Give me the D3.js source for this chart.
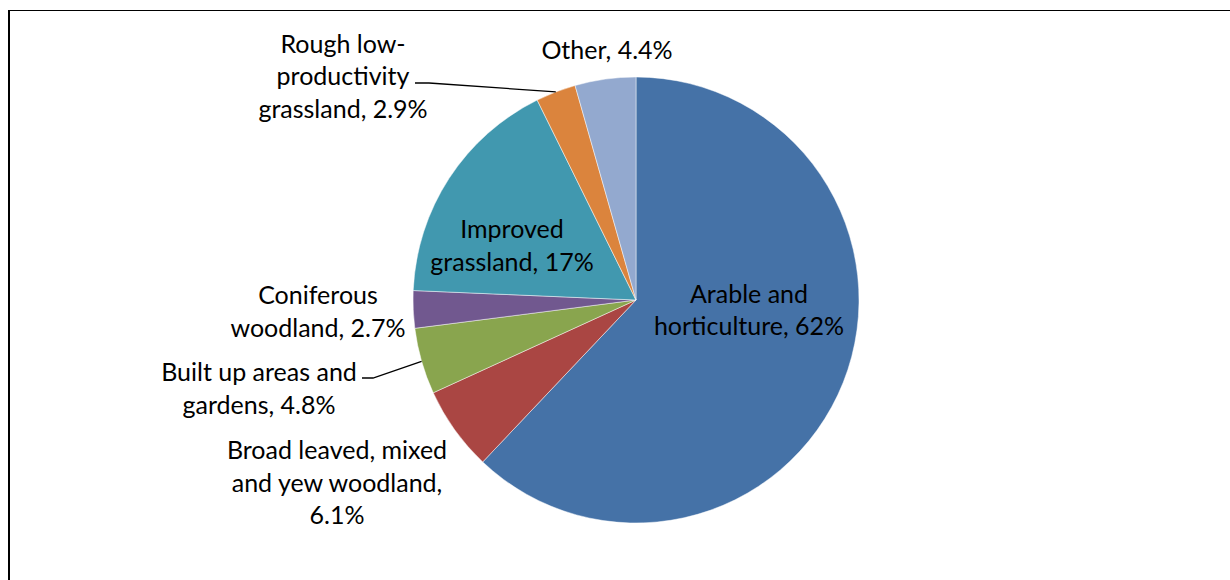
<!DOCTYPE html>
<html>
<head>
<meta charset="utf-8">
<script src="https://cdn.jsdelivr.net/npm/d3@7"></script>
<style>
  html, body { margin: 0; padding: 0; background: #fff; }
  svg { display: block; font-family: Lato, "Open Sans", sans-serif; }
</style>
</head>
<body>
<div id="chart"></div>
<script>
// data, clockwise from 12 o'clock
const categories = [
  'Arable and horticulture',
  'Broad leaved, mixed and yew woodland',
  'Built up areas and gardens',
  'Coniferous woodland',
  'Improved grassland',
  'Rough low-productivity grassland',
  'Other'
];
const shares = [62, 6.1, 4.8, 2.7, 17, 2.9, 4.4];
const labelLines = [
  ['Arable and', 'horticulture, 62%'],
  ['Broad leaved, mixed', 'and yew woodland,', '6.1%'],
  ['Built up areas and', 'gardens, 4.8%'],
  ['Coniferous', 'woodland, 2.7%'],
  ['Improved', 'grassland, 17%'],
  ['Rough low-', 'productivity', 'grassland, 2.9%'],
  ['Other, 4.4%']
];
const colors = ['#4572A7', '#AA4643', '#89A54E', '#71588F', '#4198AF', '#DB843D', '#93A9CF'];

// label block centres, relative to pie centre
const labelPos = [
  [113, 10], [-299, 183], [-377, 88.5], [-318, 11.5], [-124, -54.5], [-293, -223.5], [-29, -250]
];
// leader lines: [x start, y, x of bend] relative to centre
const leaders = {5: [-221, -217, -207], 2: [-274, 78, -263]};

const W = 1230, H = 580;
const cx = 636, cy = 300, R = 223;
const lineH = 32.5;

const svg = d3.select('#chart').append('svg').attr('width', W).attr('height', H);

// frame
svg.append('line').attr('x1', 9).attr('x2', W).attr('y1', 10.5).attr('y2', 10.5).attr('stroke', '#000').attr('stroke-width', 1.2);
svg.append('line').attr('x1', 9).attr('x2', 9).attr('y1', 10).attr('y2', H).attr('stroke', '#000').attr('stroke-width', 2);

const data = categories.map((c, i) => ({name: c, value: shares[i], i}));
const pie = d3.pie().value(d => d.value).sort(null);
const arcs = pie(data);
const arc = d3.arc().innerRadius(0).outerRadius(R);

const g = svg.append('g').attr('transform', `translate(${cx},${cy})`);

g.selectAll('path.slice')
  .data(arcs)
  .join('path')
  .attr('class', 'slice')
  .attr('d', arc)
  .attr('fill', d => colors[d.data.i])
  .attr('stroke', '#fff')
  .attr('stroke-opacity', 0.6)
  .attr('stroke-width', 0.8);

// leader lines
Object.keys(leaders).forEach(k => {
  const a = arcs[+k];
  const mid = (a.startAngle + a.endAngle) / 2;
  const ex = R * Math.sin(mid), ey = -R * Math.cos(mid);
  const [x0, y0, x1] = leaders[k];
  g.append('path')
    .attr('d', d3.line()([[x0, y0], [x1, y0], [ex, ey]]))
    .attr('fill', 'none')
    .attr('stroke', '#000')
    .attr('stroke-width', 1.3);
});

// labels
arcs.forEach((a, i) => {
  const lines = labelLines[i];
  const [lx, ly] = labelPos[i];
  const t = g.append('text')
    .attr('text-anchor', 'middle')
    .attr('font-size', 25)
    .attr('fill', '#000');
  lines.forEach((s, j) => {
    t.append('tspan')
      .attr('x', lx)
      .attr('y', ly + (j - (lines.length - 1) / 2) * lineH)
      .attr('dy', '0.35em')
      .text(s);
  });
});
</script>
</body>
</html>
